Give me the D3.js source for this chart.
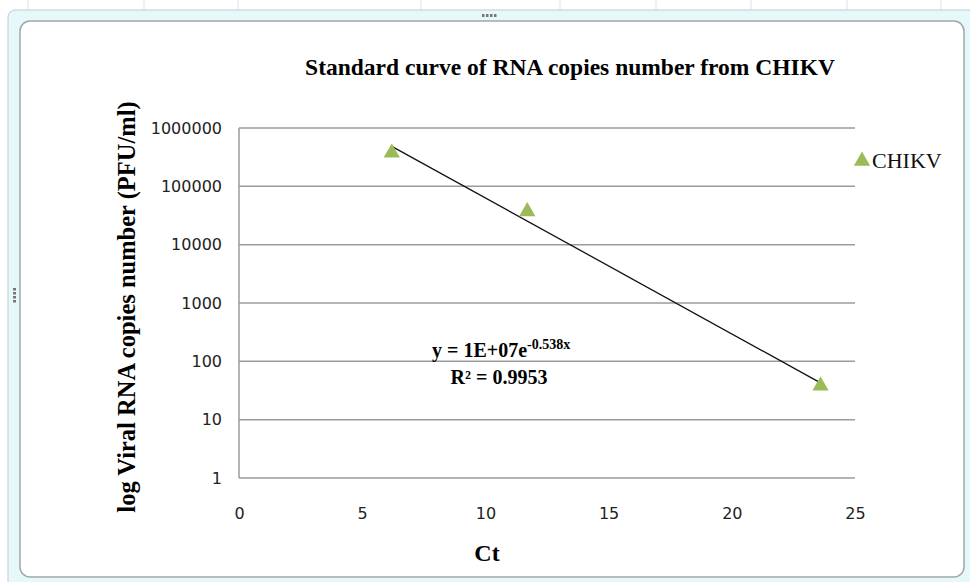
<!DOCTYPE html>
<html>
<head>
<meta charset="utf-8">
<script src="https://cdn.jsdelivr.net/npm/d3@7"></script>
<style>
  html, body { margin: 0; padding: 0; background: #fff; }
  svg { display: block; }
  .tick text { font-family: "DejaVu Sans", sans-serif; font-size: 16px; fill: #222; }
  .serif { font-family: "Liberation Serif", "Times New Roman", serif; }
</style>
</head>
<body>
<svg id="chart" width="970" height="582"></svg>
<script>
  // Ct values and RNA copies for the CHIKV standards
  var ct = [6.2, 11.7, 23.6];
  var copies = [375000, 37000, 38];
  var yTicks = [1, 10, 100, 1000, 10000, 100000, 1000000];
  var xTicks = [0, 5, 10, 15, 20, 25];
  var seriesName = "CHIKV";

  var svg = d3.select("#chart"),
      width = +svg.attr("width"),
      height = +svg.attr("height");

  // excel-ish chart frame
  [28, 144, 238, 421, 560, 656, 751, 847, 941].forEach(function(gx) {
    svg.append("line").attr("x1", gx).attr("x2", gx).attr("y1", 0).attr("y2", 12)
      .attr("stroke", "#dde3e6");
  });
  svg.append("rect").attr("x", 8).attr("y", 10).attr("width", width).attr("height", height)
    .attr("rx", 7).attr("fill", "#e6f8fa").attr("stroke", "#b9cdd2");
  svg.append("rect").attr("x", 20).attr("y", 21).attr("width", 944).attr("height", 556)
    .attr("rx", 10).attr("fill", "#fff").attr("stroke", "#9ea8ab").attr("stroke-width", 1.5);
  [0, 1, 2, 3].forEach(function(d) {
    svg.append("rect").attr("x", 482 + d * 4).attr("y", 14).attr("width", 2.5).attr("height", 3).attr("fill", "#777");
    svg.append("rect").attr("x", 13).attr("y", 288 + d * 4).attr("width", 3).attr("height", 2.5).attr("fill", "#777");
  });

  var margin = {left: 239, right: 855, top: 128, bottom: 478};

  var x = d3.scaleLinear().domain([0, 25]).range([margin.left, margin.right]);
  var y = d3.scaleLog().domain([1, 1000000]).range([margin.bottom, margin.top]);

  // gridlines
  svg.append("g").selectAll("line")
    .data(yTicks)
    .enter().append("line")
    .attr("x1", margin.left).attr("x2", margin.right)
    .attr("y1", function(d) { return y(d); }).attr("y2", function(d) { return y(d); })
    .attr("stroke", "#9b9b9b").attr("stroke-width", 1.5);

  svg.append("line")
    .attr("x1", margin.left).attr("x2", margin.left)
    .attr("y1", margin.top).attr("y2", margin.bottom)
    .attr("stroke", "#9b9b9b").attr("stroke-width", 1.5);

  var yAxis = svg.append("g")
    .attr("transform", "translate(" + margin.left + ",0)")
    .call(d3.axisLeft(y).tickValues(yTicks).tickFormat(d3.format("d")).tickSize(0).tickPadding(17));
  yAxis.select(".domain").remove();

  var xAxis = svg.append("g")
    .attr("transform", "translate(0," + margin.bottom + ")")
    .call(d3.axisBottom(x).tickValues(xTicks).tickSize(0).tickPadding(30));
  xAxis.select(".domain").remove();

  // exponential trendline fitted on ln(copies)
  var lny = copies.map(Math.log),
      mx = d3.mean(ct), my = d3.mean(lny),
      sxy = d3.sum(ct, function(d, i) { return (d - mx) * (lny[i] - my); }),
      sxx = d3.sum(ct, function(d) { return (d - mx) * (d - mx); }),
      slope = sxy / sxx, icpt = my - slope * mx;

  var ext = d3.extent(ct);
  svg.append("line")
    .attr("x1", x(ext[0])).attr("y1", y(Math.exp(icpt + slope * ext[0])))
    .attr("x2", x(ext[1])).attr("y2", y(Math.exp(icpt + slope * ext[1])))
    .attr("stroke", "#111").attr("stroke-width", 1.3);

  var tri = d3.symbol().type(d3.symbolTriangle).size(115);

  svg.append("g").selectAll("path")
    .data(ct)
    .enter().append("path")
    .attr("d", tri)
    .attr("transform", function(d, i) { return "translate(" + x(d) + "," + y(copies[i]) + ")"; })
    .attr("fill", "#9bbb59");

  // titles
  svg.append("text").attr("class", "serif")
    .attr("x", 570).attr("y", 75).attr("text-anchor", "middle")
    .attr("font-size", 23.5).attr("font-weight", "bold")
    .text("Standard curve of RNA copies number from CHIKV");

  svg.append("text").attr("class", "serif")
    .attr("transform", "translate(135,307) rotate(-90)").attr("text-anchor", "middle")
    .attr("font-size", 24.5).attr("font-weight", "bold")
    .text("log Viral RNA copies number (PFU/ml)");

  svg.append("text").attr("class", "serif")
    .attr("x", 487).attr("y", 561).attr("text-anchor", "middle")
    .attr("font-size", 24).attr("font-weight", "bold")
    .text("Ct");

  // trendline equation
  var eq = svg.append("text").attr("class", "serif")
    .attr("x", 432).attr("y", 357)
    .attr("font-size", 20).attr("font-weight", "bold");
  eq.append("tspan").text("y = 1E+07e");
  eq.append("tspan").attr("dy", -8).attr("font-size", 14).text("-0.538x");

  svg.append("text").attr("class", "serif")
    .attr("x", 499).attr("y", 384).attr("text-anchor", "middle")
    .attr("font-size", 20).attr("font-weight", "bold")
    .text("R\u00b2 = 0.9953");

  // legend
  svg.append("path").attr("d", tri).attr("fill", "#9bbb59")
    .attr("transform", "translate(862,161)");
  svg.append("text").attr("class", "serif")
    .attr("x", 872).attr("y", 168).attr("font-size", 22).attr("fill", "#111")
    .text(seriesName);
</script>
</body>
</html>
